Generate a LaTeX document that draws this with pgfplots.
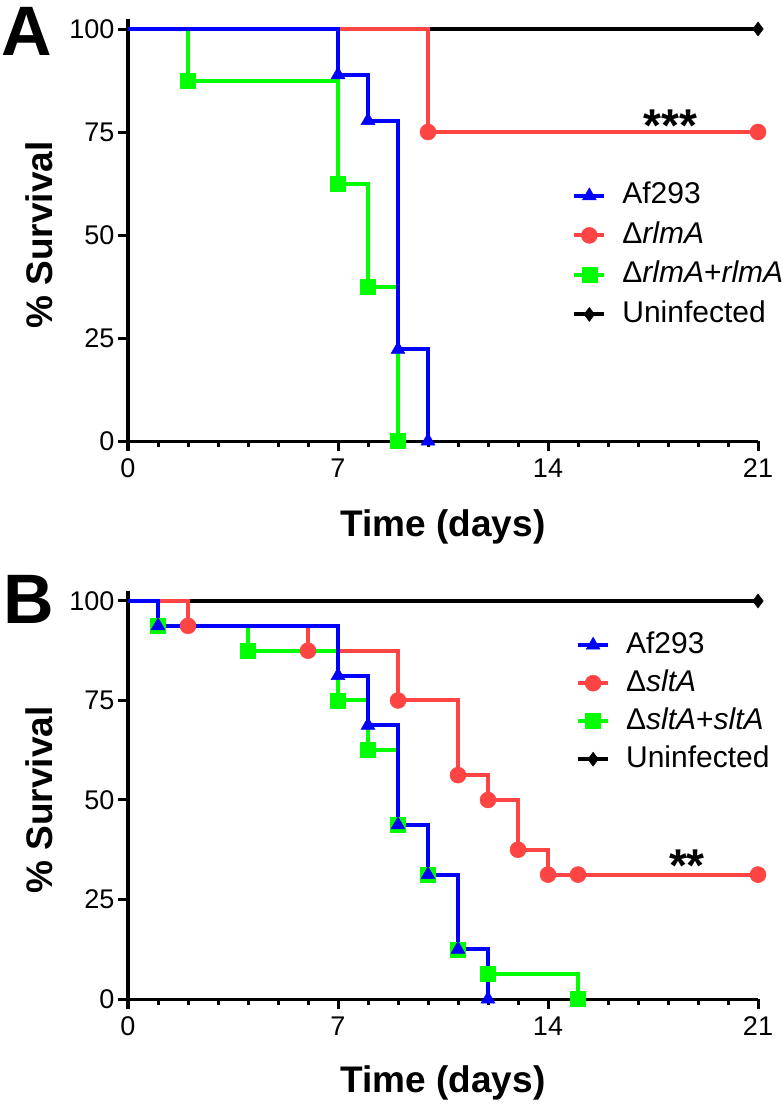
\documentclass[border=0pt]{standalone}
\usepackage{fontspec}
\setmainfont{Liberation Sans}
\usepackage{pgfplots}
\pgfplotsset{compat=1.18}
\definecolor{cblue}{RGB}{0,0,255}
\definecolor{cred}{RGB}{255,68,68}
\definecolor{cgreen}{RGB}{0,255,0}
\pgfplotsset{
  survax/.style={
    scale only axis, width=630bp,
    xmin=0, xmax=21, ymin=0, ymax=102.5,
    axis lines=left, axis line style={-, line width=3bp},
    xtick={0,7,14,21}, minor x tick num=6, ytick={0,25,50,75,100},
    tick align=outside, major tick length=10bp, minor tick length=6bp,
    every tick/.style={line width=3bp, black},
    minor tick style={line width=3bp, black},
    major tick style={line width=3bp, black},
    /pgf/number format/assume math mode=true,
    tick label style={font=\fontsize{27bp}{27bp}\selectfont},
    xticklabel style={yshift=-4bp},
    label style={font=\fontsize{37bp}{37bp}\selectfont\bfseries},
    ylabel={\% Survival}, xlabel={Time (days)},
    ylabel style={at={(axis description cs:-0.1414,0.488)}, anchor=center},
    clip=false,
    legend cell align=left,
    legend image code/.code={\draw[mark repeat=2,mark phase=2,#1] plot coordinates {(0bp,0bp)(15bp,0bp)(30bp,0bp)};},
    legend style={draw=none, fill=none, inner sep=0pt, anchor=north west,
      font=\fontsize{30bp}{30bp}\selectfont,
      nodes={inner sep=0pt, text height=22bp, text depth=6bp},
      /tikz/every odd column/.append style={column sep=16bp}},
    every axis plot/.append style={line width=4bp, const plot, mark options={solid, line width=0.5bp}},
  },
  lgblue/.style={cblue, line width=4bp, mark=triangle*, mark size=8bp, mark options={solid,line width=0.5bp}},
  lgred/.style={cred, line width=4bp, mark=*, mark size=8bp, mark options={solid,line width=0.5bp}},
  lggreen/.style={cgreen, line width=4bp, mark=square*, mark size=7.5bp, mark options={solid,line width=0.5bp}},
  lgblack/.style={black, line width=4bp, mark=diamond*, mark size=7bp, mark options={solid,line width=0.5bp}},
}
\begin{document}
\begin{tikzpicture}
\useasboundingbox (0,0) rectangle (783bp,-1104bp);
\node[anchor=base west, inner sep=0pt, font=\fontsize{70bp}{70bp}\selectfont\bfseries] at (1bp,-55bp) {A};
\node[anchor=base west, inner sep=0pt, font=\fontsize{70bp}{70bp}\selectfont\bfseries] at (3bp,-623bp) {B};
% Panel A
\begin{axis}[survax, height=422.3bp, at={(128bp,-441bp)}, anchor=south west,
  xlabel style={at={(axis description cs:0.5,-0.204)}, anchor=center},
  legend style={at={(axis description cs:0.705,0.614)}, row sep=11.5bp}]
\addlegendimage{lgblue}\addlegendentry{Af293}
\addlegendimage{lgred}\addlegendentry{Δ\textit{rlmA}}
\addlegendimage{lggreen}\addlegendentry{Δ\textit{rlmA}+\textit{rlmA}}
\addlegendimage{lgblack}\addlegendentry{Uninfected}
\addplot[lgblack, forget plot, mark indices={2}] coordinates {(0,100) (21,100)};
\addplot[lgred, forget plot, mark indices={2,3}] coordinates {(0,100) (10,75) (21,75)};
\addplot[lggreen, forget plot, mark indices={2,3,4,5}] coordinates {(0,100) (2,87.5) (7,62.5) (8,37.5) (9,0)};
\addplot[lgblue, forget plot, mark indices={2,3,4,5}] coordinates {(0,100) (7,88.89) (8,77.78) (9,22.22) (10,0)};
\node[anchor=base, inner sep=0pt, font=\fontsize{46bp}{46bp}\selectfont\bfseries] at (axis cs:18.07,72.8) {***};
\end{axis}
% Panel B
\begin{axis}[survax, height=408bp, at={(128bp,-999bp)}, anchor=south west,
  xlabel style={at={(axis description cs:0.5,-0.206)}, anchor=center},
  legend style={at={(axis description cs:0.711,0.902)}, row sep=10bp}]
\addlegendimage{lgblue}\addlegendentry{Af293}
\addlegendimage{lgred}\addlegendentry{Δ\textit{sltA}}
\addlegendimage{lggreen}\addlegendentry{Δ\textit{sltA}+\textit{sltA}}
\addlegendimage{lgblack}\addlegendentry{Uninfected}
\addplot[lgblack, forget plot, mark indices={2}] coordinates {(0,100) (21,100)};
\addplot[lgred, forget plot, mark indices={2,3,4,5,6,7,8,9,10}] coordinates {(0,100) (2,93.75) (6,87.5) (9,75) (11,56.25) (12,50) (13,37.5) (14,31.25) (15,31.25) (21,31.25)};
\addplot[lggreen, forget plot, mark indices={2,3,4,5,6,7,8,9,10}] coordinates {(0,100) (1,93.75) (4,87.5) (7,75) (8,62.5) (9,43.75) (10,31.25) (11,12.5) (12,6.25) (15,0)};
\addplot[lgblue, forget plot, mark indices={2,3,4,5,6,7,8}] coordinates {(0,100) (1,93.75) (7,81.25) (8,68.75) (9,43.75) (10,31.25) (11,12.5) (12,0)};
\node[anchor=base, inner sep=0pt, font=\fontsize{46bp}{46bp}\selectfont\bfseries] at (axis cs:18.63,29.6) {**};
\end{axis}
\end{tikzpicture}
\end{document}
